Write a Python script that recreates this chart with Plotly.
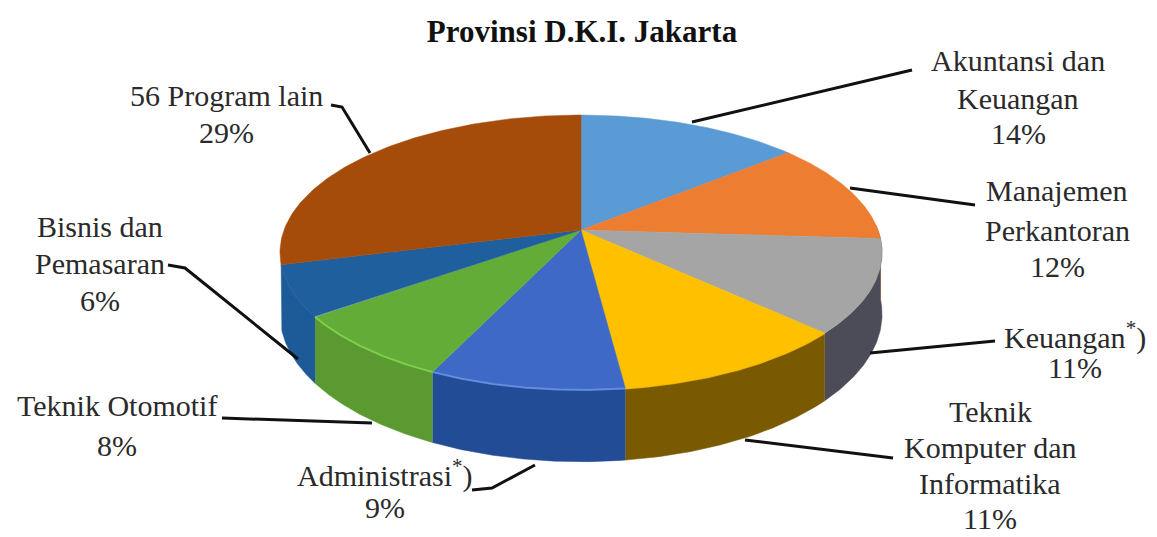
import numpy as np
import plotly.graph_objects as go

# ---- data ----
categories = ["Akuntansi dan<br>Keuangan", "Manajemen<br>Perkantoran", "Keuangan*)",
              "Teknik<br>Komputer dan<br>Informatika", "Administrasi*)",
              "Teknik Otomotif", "Bisnis dan<br>Pemasaran", "56 Program lain"]
display_names = [["Akuntansi dan", "Keuangan"], ["Manajemen", "Perkantoran"], ["Keuangan<sup>*</sup>)"],
                 ["Teknik", "Komputer dan", "Informatika"], ["Administrasi<sup>*</sup>)"],
                 ["Teknik Otomotif"], ["Bisnis dan", "Pemasaran"], ["56 Program lain"]]
values = [14, 12, 11, 11, 9, 8, 6, 29]
title_text = "Provinsi D.K.I. Jakarta"

# ---- style and layout ----
top_colors = ["#5B9BD5", "#ED7D31", "#A5A5A5", "#FFC000", "#3F69C6", "#63AC38", "#1F5F9E", "#A64C0A"]
side_colors = ["#3F6F99", "#A85822", "#4C4C58", "#7A5A00", "#234C96", "#5A9A30", "#1C5A98", "#74360A"]
edge_colors = [None, None, None, "#FFC000", "#6E9BE6", "#86DC50", None, None]
CX, CY, R, H, K, T = 581.0, 230.0, 297.0, 133.8, 0.1636, 60.0


def project(theta, drop=0.0):
    s, c = np.sin(theta), np.cos(theta)
    w = 1 + K * c
    return CX + R * s / w, CY - H * c / w + drop / w


fig = go.Figure()
edges = np.cumsum([0] + values) / sum(values) * 2 * np.pi
lo, hi = np.radians(88), edges[7]

# side walls
for i in range(len(values)):
    a, b = max(edges[i], lo), min(edges[i + 1], hi)
    if b <= a:
        continue
    t = np.linspace(a, b, 80)
    x1, y1 = project(t)
    x2, y2 = project(t[::-1], T)
    fig.add_trace(go.Scatter(x=np.r_[x1, x2], y=np.r_[y1, y2], mode="lines", fill="toself",
                             fillcolor=side_colors[i], line=dict(width=0.5, color=side_colors[i]),
                             hoverinfo="skip", showlegend=False))

# top faces
for i in range(len(values)):
    t = np.linspace(edges[i], edges[i + 1], 120)
    x, y = project(t)
    fig.add_trace(go.Scatter(x=np.r_[CX, x, CX], y=np.r_[CY, y, CY], mode="lines", fill="toself",
                             fillcolor=top_colors[i], line=dict(width=0.5, color=top_colors[i]),
                             name=categories[i], text=f"{values[i]}%", hoverinfo="skip",
                             showlegend=False))

# bevel highlight on the front rim
for i in range(len(values)):
    if edge_colors[i] is None:
        continue
    t = np.linspace(edges[i], edges[i + 1], 80)
    x, y = project(t)
    fig.add_trace(go.Scatter(x=x, y=y, mode="lines", line=dict(width=2, color=edge_colors[i]),
                             opacity=0.75, hoverinfo="skip", showlegend=False))

# each label's centre x and the centre y of its lines
label_x = [1018, 1057, 1075, 990, 385, 117, 100, 226]
label_y = [[60, 98, 133], [190, 230, 266], [335, 367], [411, 447, 483, 518], [473, 507], [405, 445],
           [226, 263, 300], [95, 132]]
for name, v, lx, ly in zip(display_names, values, label_x, label_y):
    for line, yy in zip(name + [f"{v}%"], ly):
        fig.add_annotation(x=lx, y=yy, xref="x", yref="y", text=line, showarrow=False,
                           align="center", xanchor="center", yanchor="middle",
                           font=dict(family="Liberation Serif", size=30, color="#2a2a2a"))

leaders = [
    [(692, 122), (912, 70)],
    [(850, 188), (975, 205)],
    [(870, 353), (995, 341)],
    [(745, 440), (893, 458)],
    [(535, 465), (492, 488), (472, 490)],
    [(222, 418), (372, 423)],
    [(168, 265), (185, 268), (298, 359)],
    [(331, 105), (342, 107), (370, 153)],
]
shapes = []
for pts in leaders:
    path = "M " + " L ".join(f"{px},{py}" for px, py in pts)
    shapes.append(dict(type="path", path=path, xref="x", yref="y",
                       line=dict(color="#111111", width=3)))

fig.update_layout(
    width=1157, height=537,
    margin=dict(l=0, r=0, t=0, b=0),
    paper_bgcolor="white", plot_bgcolor="white",
    shapes=shapes,
    title=dict(text=f"<b>{title_text}</b>", x=582 / 1157, xanchor="center", y=1 - 31 / 537, yanchor="middle",
               font=dict(family="Liberation Serif", size=31, color="#111111")),
    xaxis=dict(range=[0, 1157], visible=False, fixedrange=True),
    yaxis=dict(range=[537, 0], visible=False, fixedrange=True),
)
fig.write_html("out.html", config={"displayModeBar": False},
               post_script="document.body.style.margin='0';document.documentElement.style.overflow='hidden';")
